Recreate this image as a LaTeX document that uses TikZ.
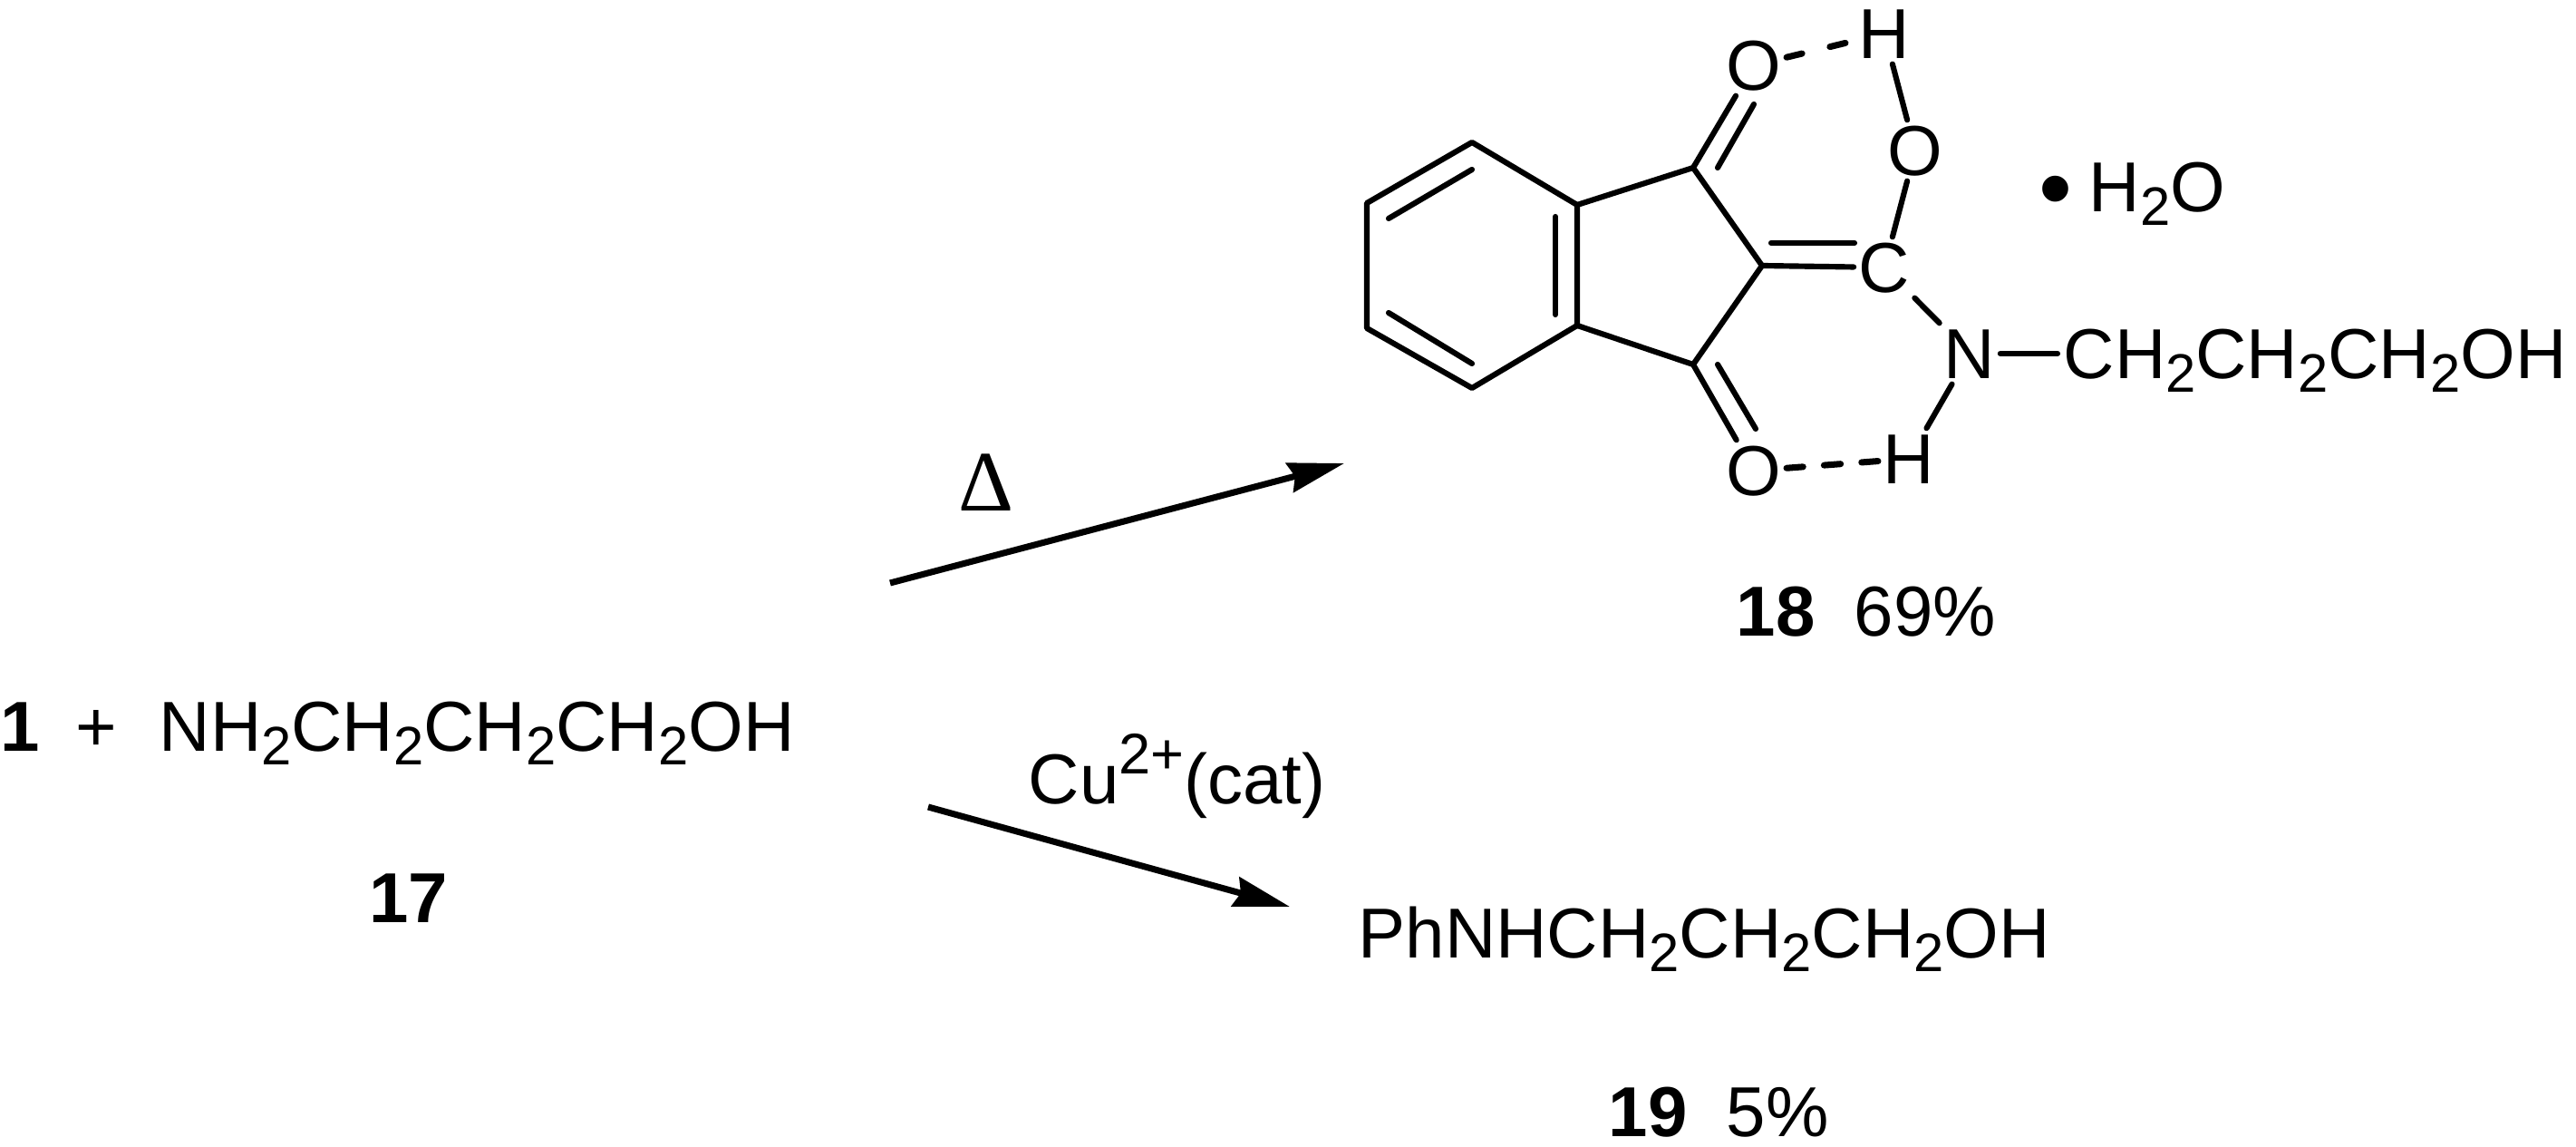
\documentclass[tikz,border=0pt]{standalone}
\usepackage{fontspec}
\setmainfont{Liberation Sans}
\newfontfamily\serifdelta{Liberation Serif}
\usepackage{tkz-euclide}
\usetikzlibrary{arrows.meta,calc}
\newcommand{\subtwo}{\raisebox{-.15cm}{\fontsize{17}{17}\selectfont 2}}
\newcommand{\suptext}[1]{\raisebox{.33cm}{\fontsize{18}{18}\selectfont #1}}
\tikzset{
  atom/.style={inner sep=.05cm,text height=.56cm,text depth=0pt,font=\fontsize{22.2}{26}\selectfont},
  formula/.style={inner sep=0pt,anchor=base west,font=\fontsize{22.2}{26}\selectfont},
  bondline/.style={line width=1.75pt,color=black},
  hbond/.style={line width=2pt,dash pattern=on 5.2pt off 6.6pt},
  hbondtop/.style={line width=2pt,dash pattern=on 5pt off 9pt},
  rxnarrow/.style={line width=2pt,line cap=butt,-{Stealth[length=.62cm,width=.33cm,inset=.06cm]}}
}

\begin{document}
\begin{tikzpicture}[line cap=round]
\useasboundingbox (0,0) rectangle (28.42,12.65);
\tkzSetUpLine[line width=1.75pt,color=black]

\tkzDefPoints{16.24/11.08/Ra,15.08/10.41/Rb,15.08/9.03/Rc,16.24/8.37/Rd,17.40/9.06/Re,17.40/10.39/Rf}
\tkzDefPoints{18.68/10.80/Ka,19.44/9.72/Kb,18.68/8.63/Kc}
\tkzDefPoints{15.32/10.24/Ia,16.24/10.78/Ib,15.32/9.20/Ic,16.24/8.64/Id,17.16/10.26/Ie,17.16/9.18/If}
\tkzDefPoints{18.95/10.80/Da,19.35/11.50/Db,18.95/8.63/Dc,19.37/7.92/Dd,19.54/9.97/De,20.46/9.97/Df}
\tkzDefPoints{9.82/6.22/Aa,14.83/7.54/Ab,10.24/3.75/Ac,14.23/2.65/Ad}

\tkzDrawPolygon(Ra,Rb,Rc,Rd,Re,Rf)
\tkzDrawSegments(Re,Rf Rf,Ka Ka,Kb Kb,Kc Kc,Re Ia,Ib Ic,Id Ie,If Da,Db Dc,Dd De,Df)

\node[atom] (Oa) at (19.35,11.93) {O};
\node[atom] (Ob) at (19.35,7.46) {O};
\node[atom] (Ha) at (20.79,12.28) {H};
\node[atom] (Oc) at (21.13,10.99) {O};
\node[atom] (Cc) at (20.79,9.70) {C};
\node[atom] (Nc) at (21.73,8.75) {N};
\node[atom] (Hb) at (21.06,7.59) {H};
\node[formula] (chain) at (22.76,8.47) {CH\subtwo CH\subtwo CH\subtwo OH};

\draw[bondline] (Ka) -- (Oa);
\draw[bondline] (Kc) -- (Ob);
\draw[bondline] (Kb) -- (Cc);
\draw[bondline] (Ha) -- (Oc);
\draw[bondline] (Oc) -- (Cc);
\draw[bondline] (Cc) -- (Nc);
\draw[bondline] (Nc) -- ([xshift=-.06cm]Nc -| chain.west);
\draw[bondline] (Nc) -- (Hb);
\draw[hbondtop] (Oa) -- (Ha);
\draw[hbond] (Ob) -- (Hb);

\node[inner sep=0pt,font=\fontsize{30}{30}\selectfont] (dot) at (22.68,10.46) {\textbullet};
\node[formula] (water) at (23.04,10.31) {H\subtwo O};
\node[formula] (prodA) at (19.15,5.63) {\textbf{18}~~69\%};

\node[formula] (one) at (0,4.36) {\textbf{1}};
\node[formula,anchor=base] (plus) at (1.06,4.36) {+};
\node[formula] (amine) at (1.75,4.36) {NH\subtwo CH\subtwo CH\subtwo CH\subtwo OH};
\node[formula,anchor=base] (cpd) at (4.51,2.47) {\textbf{17}};

\node[formula,anchor=base,font=\fontsize{27}{27}\serifdelta] (heat) at (10.88,7.01) {Δ};
\node[formula] (cat) at (11.34,3.78) {Cu\suptext{2+}(cat)};

\node[formula] (prodB) at (14.98,2.08) {PhNHCH\subtwo CH\subtwo CH\subtwo OH};
\node[formula] (yieldB) at (17.74,0.11) {\textbf{19}~~5\%};

\draw[rxnarrow] (Aa) -- (Ab);
\draw[rxnarrow] (Ac) -- (Ad);

\end{tikzpicture}
\end{document}
